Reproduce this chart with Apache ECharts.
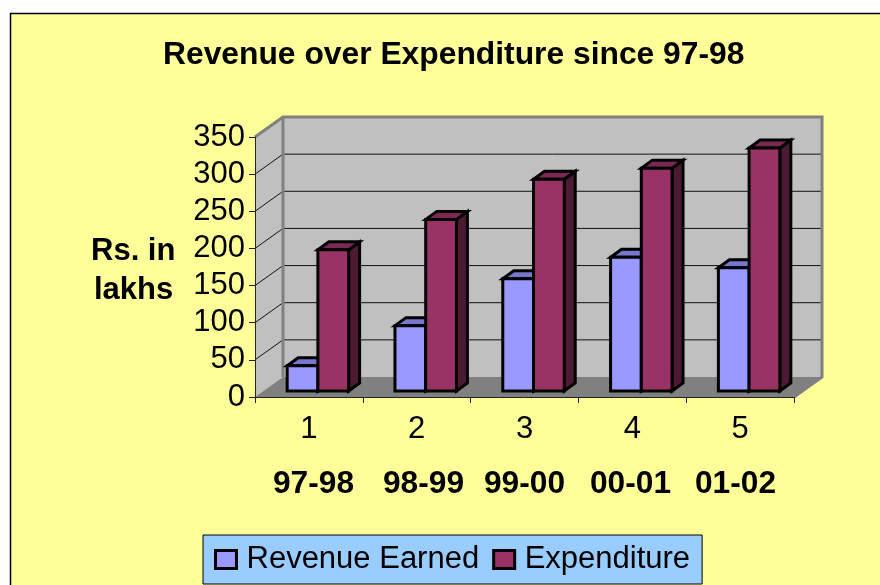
<!DOCTYPE html>
<html>
<head>
<meta charset="utf-8">
<style>
  html, body { margin: 0; padding: 0; background: #fff; }
  #chart { width: 880px; height: 585px; }
</style>
<script src="https://cdn.jsdelivr.net/npm/echarts@6/dist/echarts.min.js"></script>
</head>
<body>
<div id="chart"></div>
<script>
const tickLabels = ['1', '2', '3', '4', '5']
const periods = ['97-98', '98-99', '99-00', '00-01', '01-02']
const revenue = [34, 88, 151, 180, 166]
const expenditure = [190, 231, 285, 300, 327]
const gridValues = [50, 100, 150, 200, 250, 300, 350]

const font = '"Liberation Sans", Arial, sans-serif'
const depthX = 28
const depthY = 20

const chart = echarts.init(document.getElementById('chart'))

function poly(points, fill, stroke, lineWidth) {
  return {
    type: 'polygon',
    shape: { points },
    style: { fill, stroke: stroke || 'none', lineWidth: lineWidth || 0, lineJoin: 'miter' }
  }
}

function renderWalls(params, api) {
  const band = api.size([1, 0])[0]
  const o = api.coord([0, 0])
  const left = o[0] - band / 2
  const right = left + band * tickLabels.length
  const base = o[1]
  const top = api.coord([0, 350])[1]
  const children = [
    poly([[left, base], [left + depthX, base - depthY], [left + depthX, top - depthY], [left, top]], '#c0c0c0'),
    poly([[left + depthX, base - depthY], [right + depthX, base - depthY], [right + depthX, top - depthY], [left + depthX, top - depthY]], '#c0c0c0'),
    poly([[left, base], [right, base], [right + depthX, base - depthY], [left + depthX, base - depthY]], '#808080')
  ]
  gridValues.forEach(v => {
    const y = api.coord([0, v])[1]
    if (v < 350) {
      children.push({
        type: 'polyline',
        shape: { points: [[left, y], [left + depthX, y - depthY], [right + depthX, y - depthY]] },
        style: { fill: 'none', stroke: '#111', lineWidth: 1 }
      })
    }
  })
  children.push({
    type: 'polyline',
    shape: { points: [[left, top], [left + depthX, top - depthY], [right + depthX, top - depthY], [right + depthX, base - depthY], [right, base]] },
    style: { fill: 'none', stroke: '#808080', lineWidth: 3 }
  })
  children.push({
    type: 'line',
    shape: { x1: left + depthX, y1: top - depthY, x2: left + depthX, y2: base - depthY },
    style: { stroke: '#808080', lineWidth: 3 }
  })
  return { type: 'group', children }
}

function barRenderer(side, front, topFace, sideFace) {
  return function (params, api) {
    const c = api.coord([api.value(0), api.value(1)])
    const base = api.coord([api.value(0), 0])[1]
    const barW = api.size([1, 0])[0] * 0.285
    const offX = 9
    const offY = (depthY - 8) / 2
    const x0 = c[0] + offX + (side === 0 ? -barW : 0)
    const x1 = x0 + barW
    const yT = c[1] - offY
    const yB = base - offY
    const s = { stroke: '#000', lineWidth: 3 }
    return {
      type: 'group',
      children: [
        poly([[x1, yB], [x1 + 11, yB - 8], [x1 + 11, yT - 8], [x1, yT]], sideFace, s.stroke, s.lineWidth),
        poly([[x0, yT], [x1, yT], [x1 + 11, yT - 8], [x0 + 11, yT - 8]], topFace, s.stroke, s.lineWidth),
        poly([[x0, yB], [x1, yB], [x1, yT], [x0, yT]], front, s.stroke, s.lineWidth)
      ]
    }
  }
}

const option = {
  backgroundColor: '#fff',
  animation: false,
  textStyle: { fontFamily: font },
  title: {
    text: 'Revenue over Expenditure since 97-98',
    left: 163, top: 39,
    padding: 0,
    textStyle: { fontFamily: font, fontSize: 31.8, fontWeight: 'bold', color: '#000' }
  },
  legend: {
    left: 203, top: 535,
    padding: [9, 12, 9, 11],
    backgroundColor: '#99ccff',
    borderColor: '#000', borderWidth: 1,
    itemWidth: 21, itemHeight: 18, itemGap: 13,
    icon: 'rect',
    selectedMode: false,
    textStyle: { fontFamily: font, fontSize: 31, color: '#000', padding: [0, 0, 0, 5] },
    data: [
      { name: 'Revenue Earned', itemStyle: { color: '#9999ff', borderColor: '#000', borderWidth: 3 } },
      { name: 'Expenditure', itemStyle: { color: '#993366', borderColor: '#000', borderWidth: 3 } }
    ]
  },
  grid: { left: 255, right: 86, top: 137, height: 260, containLabel: false },
  xAxis: {
    type: 'category',
    data: tickLabels,
    boundaryGap: true,
    axisLine: { show: true, lineStyle: { color: '#222', width: 1 } },
    axisTick: { show: true, length: 6, alignWithLabel: false, lineStyle: { color: '#222' } },
    axisLabel: { color: '#000', fontSize: 31, margin: 17, fontFamily: font },
    z: 5
  },
  yAxis: {
    type: 'value', min: 0, max: 350, interval: 50,
    axisLine: { show: true, lineStyle: { color: '#222', width: 1 } },
    axisTick: { show: true, length: 6, lineStyle: { color: '#222' } },
    axisLabel: { color: '#000', fontSize: 31, margin: 10, fontFamily: font },
    splitLine: { show: false },
    z: 5
  },
  graphic: [
    { type: 'rect', z: -10, shape: { x: 10.5, y: 13.5, width: 900, height: 600 }, style: { fill: '#ffff99', stroke: '#000', lineWidth: 1.5 } },
    { type: 'text', left: 91, top: 236, style: { text: 'Rs. in', fontFamily: font, fontSize: 31, fontWeight: 'bold', fill: '#000' } },
    { type: 'text', left: 94, top: 275, style: { text: 'lakhs', fontFamily: font, fontSize: 31, fontWeight: 'bold', fill: '#000' } }
  ].concat(periods.map((p, i) => ({
    type: 'text',
    left: [273, 383, 484, 590, 695][i],
    top: 468,
    style: { text: p, fontFamily: font, fontSize: 31.7, fontWeight: 'bold', fill: '#000' }
  }))),
  series: [
    {
      type: 'custom', name: 'walls', silent: true, z: 1,
      renderItem: renderWalls, data: [[0, 0]], encode: { x: 0, y: 1 }
    },
    {
      type: 'custom', name: 'Revenue Earned', z: 2,
      itemStyle: { color: '#9999ff' },
      renderItem: barRenderer(0, '#9999ff', '#7777cc', '#4d4d80'),
      data: revenue.map((v, i) => [i, v]), encode: { x: 0, y: 1 }
    },
    {
      type: 'custom', name: 'Expenditure', z: 3,
      itemStyle: { color: '#993366' },
      renderItem: barRenderer(1, '#993366', '#7a2952', '#4d1a33'),
      data: expenditure.map((v, i) => [i, v]), encode: { x: 0, y: 1 }
    }
  ]
}

chart.setOption(option)
window.addEventListener('resize', () => chart.resize())
</script>
</body>
</html>
